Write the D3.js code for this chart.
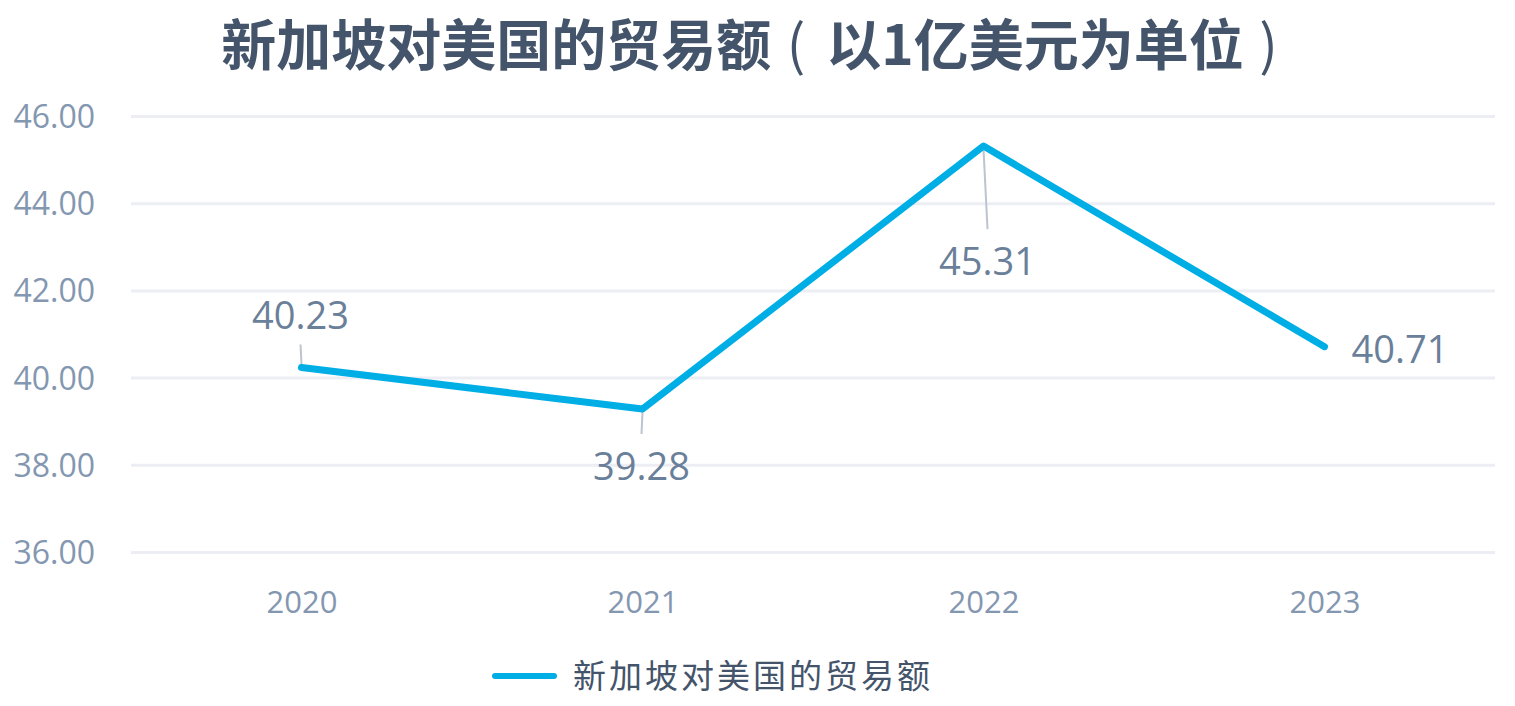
<!DOCTYPE html>
<html><head><meta charset="utf-8">
<script src="https://cdn.jsdelivr.net/npm/d3@7/dist/d3.min.js"></script>
<style>
html,body{margin:0;padding:0;background:#fff;}
svg{display:block;}
</style></head>
<body>
<svg id="chart" width="1515" height="706"></svg>
<script>
const titleMain = "新加坡对美国的贸易额";
const titleUnit = "以1亿美元为单位";
const seriesName = "新加坡对美国的贸易额";
const years = ["2020", "2021", "2022", "2023"];
const values = [40.23, 39.28, 45.31, 40.71];
const yTicks = [36, 38, 40, 42, 44, 46];
// label placement: side relative to point
const labelSide = ["above", "below", "below", "right"];

const W = 1515, H = 706;
const m = {left: 131, right: 20, top: 116, bottom: 154};
const svg = d3.select("#chart");

const x = d3.scalePoint().domain(years).range([m.left, W - m.right]).padding(0.5);
const y = d3.scaleLinear().domain([36, 46]).range([H - m.bottom, m.top]);

const numFont = "'Open Sans', 'DejaVu Sans', sans-serif";
const cjkFont = "'Noto Sans CJK SC', 'Noto Sans', sans-serif";

// title, laid out piecewise so the brackets sit centred in their gaps
const tfs = 55, tY = 64.5;
const tg = svg.append("g").attr("font-family", cjkFont).attr("font-weight", "bold")
  .attr("font-size", tfs).attr("fill", "#44546a");
const tMain = tg.append("text").attr("y", tY).text(titleMain);
const tUnit = tg.append("text").attr("y", tY).text(titleUnit);
const w1 = tMain.node().getComputedTextLength();
const w2 = tUnit.node().getComputedTextLength();
const gap = tfs;
const total = w1 + gap + w2 + gap;
const x0 = 760 - total / 2;
tMain.attr("x", x0);
tUnit.attr("x", x0 + w1 + gap);
tg.append("text").attr("x", x0 + w1 + gap * 0.45).attr("y", tY)
  .attr("text-anchor", "middle").attr("font-weight", "normal").text("(");
tg.append("text").attr("x", x0 + w1 + gap + w2 + gap * 0.45).attr("y", tY)
  .attr("text-anchor", "middle").attr("font-weight", "normal").text(")");

// gridlines
const yAxis = d3.axisLeft(y).tickValues(yTicks).tickSize(-(W - m.left - m.right)).tickPadding(36)
  .tickFormat(d3.format(".2f"));
const gy = svg.append("g").attr("transform", `translate(${m.left},0)`).call(yAxis);
gy.select(".domain").remove();
gy.selectAll(".tick line").attr("stroke", "#eceef3").attr("stroke-width", 3);
gy.selectAll(".tick text")
  .attr("font-family", numFont).attr("font-size", 32).attr("fill", "#8497b0")
  .attr("dy", "0.36em");

// x axis
const xAxis = d3.axisBottom(x).tickSize(0).tickPadding(39);
const gx = svg.append("g").attr("transform", `translate(0,${H - m.bottom})`).call(xAxis);
gx.select(".domain").remove();
gx.selectAll(".tick text")
  .attr("font-family", numFont).attr("font-size", 31).attr("fill", "#8497b0");

const data = years.map((yr, i) => ({yr, v: values[i], side: labelSide[i]}));

// leader lines
const leaders = data.filter(d => d.side !== "right");
svg.selectAll(".leader").data(leaders).enter().append("line")
  .attr("class", "leader")
  .attr("x1", d => x(d.yr))
  .attr("y1", d => y(d.v) + (d.side === "above" ? -3 : 3))
  .attr("x2", d => x(d.yr) + (d.yr === "2022" ? 4 : -1))
  .attr("y2", d => d.side === "above" ? y(d.v) - 23 : y(d.v) + (d.yr === "2022" ? 83 : 25))
  .attr("stroke", "#bcc5cf").attr("stroke-width", 2);

// line
const line = d3.line().x(d => x(d.yr)).y(d => y(d.v));
svg.append("path").datum(data)
  .attr("d", line)
  .attr("fill", "none")
  .attr("stroke", "#00aee6")
  .attr("stroke-width", 7)
  .attr("stroke-linejoin", "round")
  .attr("stroke-linecap", "round");

// data labels
svg.selectAll(".dl").data(data).enter().append("text")
  .attr("class", "dl")
  .attr("font-family", numFont).attr("font-size", 38).attr("fill", "#6a7f99")
  .attr("text-anchor", d => d.side === "right" ? "start" : "middle")
  .attr("x", d => d.side === "right" ? x(d.yr) + 27 : x(d.yr) + (d.yr === "2022" ? 4 : -1))
  .attr("y", d => {
    const py = y(d.v);
    if (d.side === "above") return py - 39;
    if (d.side === "right") return py + 16;
    return d.yr === "2022" ? py + 129 : py + 71;
  })
  .text(d => d.v.toFixed(2));

// legend
const lg = svg.append("g");
lg.append("line").attr("x1", 495).attr("x2", 554).attr("y1", 676).attr("y2", 676)
  .attr("stroke", "#00aee6").attr("stroke-width", 6).attr("stroke-linecap", "round");
lg.append("text").attr("x", 573).attr("y", 688)
  .attr("font-family", cjkFont).attr("font-size", 33).attr("letter-spacing", 3)
  .attr("fill", "#44546a").text(seriesName);
</script>
</body></html>
